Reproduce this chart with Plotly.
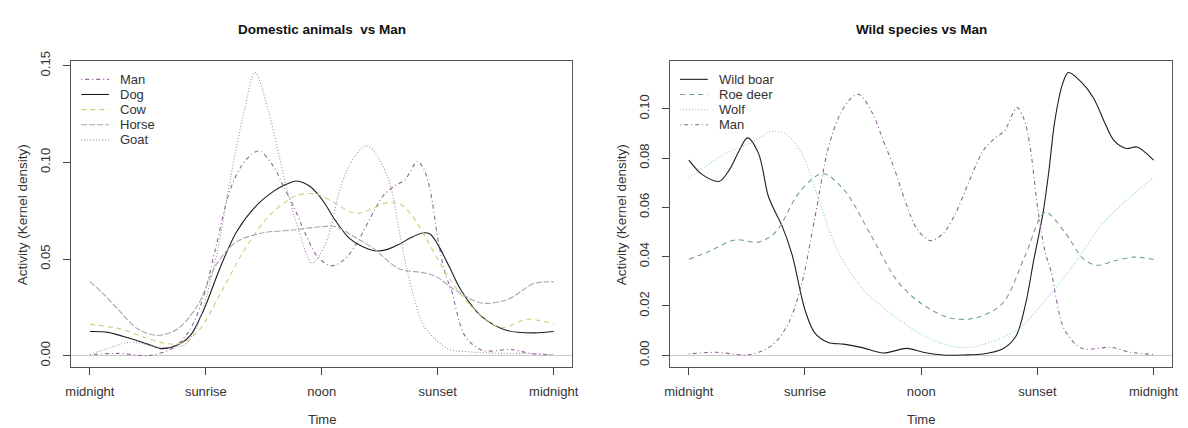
import plotly.graph_objects as go

# ---------------- data (hours of the day 0..24; kernel density) ----------------
TICK_HOURS = [0, 6, 12, 18, 24]
TICK_LABELS = ["midnight", "sunrise", "noon", "sunset", "midnight"]

LEFT_TITLE = "Domestic animals  vs Man"
RIGHT_TITLE = "Wild species vs Man"

LEFT_Y_TICKS = [0.0, 0.05, 0.10, 0.15]
RIGHT_Y_TICKS = [0.0, 0.02, 0.04, 0.06, 0.08, 0.10]

man_h = [0, 1.4, 3.1, 4.3, 5.15, 5.83, 6.5, 7.2, 7.8, 8.4, 8.8, 9.5, 10.0, 10.6, 11.2, 11.8,
         12.5, 13.2, 13.8, 14.5, 15.2, 15.8, 16.3, 16.95, 17.3, 17.6, 18.05, 18.4, 18.7,
         19.4, 20.3, 21.8, 22.8, 24]
man_v = [0.0005, 0.0012, 0.0002, 0.004, 0.013, 0.029, 0.0554, 0.0840, 0.0975, 0.1045, 0.1058,
         0.098, 0.088, 0.076, 0.062, 0.051, 0.0465, 0.050, 0.058, 0.071, 0.083, 0.088, 0.091,
         0.1005, 0.096, 0.086, 0.058, 0.042, 0.0342, 0.0104, 0.0028, 0.0032, 0.0012, 0.0003]

dog_h = [0, 0.94, 2.14, 3.0, 3.68, 4.5, 5.2, 5.9, 6.75, 7.6, 8.63, 9.5, 10.0, 10.7, 11.4,
         12.05, 12.7, 13.4, 14.1, 14.8, 15.4, 16.0, 16.6, 17.2, 17.6, 18.0, 18.6, 19.2, 20.25,
         21.6, 23, 24]
dog_v = [0.0125, 0.0121, 0.0088, 0.006, 0.0037, 0.0054, 0.0105, 0.0239, 0.0458, 0.0643, 0.0778,
         0.085, 0.0879, 0.0904, 0.0875, 0.0803, 0.070, 0.061, 0.0565, 0.0542, 0.055, 0.0576,
         0.061, 0.0635, 0.063, 0.0576, 0.046, 0.034, 0.0205, 0.013, 0.0118, 0.0125]

cow_h = [0, 1.6, 2.8, 4.0, 4.9, 5.7, 6.75, 7.95, 9.3, 10.7, 11.7, 12.5, 13.75, 14.6, 15.5,
         16.15, 16.7, 17.2, 18.55, 19.9, 21.3, 22.65, 24]
cow_v = [0.0163, 0.0138, 0.0096, 0.0062, 0.007, 0.0138, 0.032, 0.054, 0.0727, 0.0828, 0.0837,
         0.080, 0.0736, 0.076, 0.0795, 0.0778, 0.072, 0.0643, 0.0407, 0.0239, 0.0146, 0.0189,
         0.0163]

horse_h = [0, 0.7, 1.45, 2.48, 3.5, 4.53, 5.55, 6.56, 7.6, 9.0, 10.5, 12.05, 12.7, 13.76,
           14.6, 16.0, 17.2, 17.9, 18.9, 20.25, 21.6, 23, 24]
horse_v = [0.0383, 0.032, 0.024, 0.0138, 0.0105, 0.0138, 0.0256, 0.0475, 0.059, 0.0636, 0.065,
           0.0668, 0.0668, 0.061, 0.056, 0.045, 0.0430, 0.041, 0.034, 0.0273, 0.029, 0.0374,
           0.0382]

goat_h = [0, 1.0, 2.1, 3.5, 4.3, 4.9, 5.55, 6.07, 6.6, 7.26, 7.95, 8.55, 9.2, 9.8, 10.2,
          10.8, 11.5, 12.2, 12.9, 13.25, 13.7, 14.27, 14.7, 15.0, 15.5, 16.0, 16.4, 16.8,
          17.3, 18.5, 19.7, 21.4, 22.5, 24]
goat_v = [0.0007, 0.004, 0.007, 0.0045, 0.0045, 0.0055, 0.0155, 0.032, 0.054, 0.091, 0.125,
          0.1465, 0.128, 0.103, 0.086, 0.065, 0.048, 0.058, 0.0845, 0.0946, 0.103, 0.1086,
          0.106, 0.101, 0.090, 0.065, 0.045, 0.029, 0.015, 0.0037, 0.002, 0.0012, 0.0012,
          0.0007]

boar_h = [0, 0.7, 1.58, 2.1, 2.6, 3.03, 3.6, 4.1, 4.47, 4.8, 5.33, 6.0, 6.5, 7.2, 8.0, 8.9,
          10.05, 11.25, 12.1, 13.1, 14.2, 15.2, 16.2, 16.9, 17.4, 17.8, 18.3, 18.6, 18.9,
          19.3, 19.6, 20.25, 20.9, 21.5, 21.95, 22.6, 23.15, 24]
boar_v = [0.0792, 0.0733, 0.0706, 0.0753, 0.083, 0.0882, 0.0819, 0.0647, 0.058, 0.0528, 0.0409,
          0.0184, 0.0091, 0.0052, 0.0045, 0.0032, 0.0009, 0.0028, 0.0012, 0.0001, 0.0001,
          0.0005, 0.0025, 0.0078, 0.021, 0.038, 0.058, 0.075, 0.095, 0.110, 0.1147, 0.111,
          0.1044, 0.094, 0.0872, 0.0839, 0.0845, 0.0792]

roe_h = [0, 1.06, 2.4, 3.6, 4.5, 5.7, 6.9, 8.0, 9.4, 10.75, 12.0, 13.5, 14.8, 16.2, 17.4,
         18.4, 19.4, 20.4, 21.1, 21.95, 23, 24]
roe_v = [0.0389, 0.0422, 0.0468, 0.0459, 0.0501, 0.066, 0.0737, 0.0673, 0.0488, 0.0303, 0.021,
         0.0151, 0.0151, 0.021, 0.041, 0.058, 0.0501, 0.0389, 0.0365, 0.0382, 0.0398, 0.0389]

wolf_h = [0, 1.9, 3.3, 4.3, 5.0, 5.83, 6.7, 7.7, 9.05, 10.4, 12.0, 13.5, 14.5, 16.0, 17.2,
          18.55, 19.9, 21.3, 22.3, 23.2, 24]
wolf_v = [0.0719, 0.0819, 0.0865, 0.0909, 0.0898, 0.0819, 0.0634, 0.0422, 0.0263, 0.0171,
          0.0085, 0.0038, 0.0032, 0.0065, 0.0118, 0.0237, 0.0369, 0.0528, 0.0607, 0.067,
          0.0719]

# ---------------- styles ----------------
C_MAN = "#94609a"
C_DOG = "#1e1e1e"
C_COW = "#c9d27a"
C_HORSE = "#aca4ac"
C_GOAT = "#a887ae"
C_BOAR = "#1e1e1e"
C_ROE = "#729fa2"
C_WOLF = "#8fcccc"

D_DOTDASH = "1px,3px,4px,3px"
D_DASH = "5px,4px"
D_DOT = "1px,2px"
D_LONG = "6px,2px"

left_series = [
    ("Man", man_h, man_v, C_MAN, D_DOTDASH),
    ("Dog", dog_h, dog_v, C_DOG, "solid"),
    ("Cow", cow_h, cow_v, C_COW, D_DASH),
    ("Horse", horse_h, horse_v, C_HORSE, D_LONG),
    ("Goat", goat_h, goat_v, C_GOAT, D_DOT),
]
right_series = [
    ("Wild boar", boar_h, boar_v, C_BOAR, "solid"),
    ("Roe deer", roe_h, roe_v, C_ROE, D_DASH),
    ("Wolf", wolf_h, wolf_v, C_WOLF, D_DOT),
    ("Man", man_h, man_v, C_MAN, D_DOTDASH),
]

W, H = 1188, 428
FONT = "Liberation Sans, Arial, sans-serif"
TXT = "#333333"

# plot boxes in pixels
L_BOX = (66, 572)
R_BOX = (671, 1178)
TOP, BOTTOM = 52.7, 366

fig = go.Figure()

for name, hx, vy, col, dash in left_series:
    fig.add_trace(go.Scatter(x=hx, y=vy, mode="lines", name=name,
                             line=dict(color=col, width=1.1, dash=dash, shape="spline", smoothing=0.9),
                             xaxis="x", yaxis="y", showlegend=False))
for name, hx, vy, col, dash in right_series:
    fig.add_trace(go.Scatter(x=hx, y=vy, mode="lines", name=name,
                             line=dict(color=col, width=1.1, dash=dash, shape="spline", smoothing=0.9),
                             xaxis="x2", yaxis="y2", showlegend=False))

def px2x(p):
    return p / W

def py2y(p):
    return (H - p) / H

common_x = dict(range=[-0.96, 24.96], tickmode="array", tickvals=TICK_HOURS, ticktext=TICK_LABELS,
                ticks="outside", ticklen=7, tickcolor="#444", showline=True, mirror=True,
                linecolor="#555", linewidth=1, showgrid=False, zeroline=False,
                tickfont=dict(family=FONT, size=13, color=TXT), ticklabelstandoff=5)
common_y = dict(ticks="outside", ticklen=7, tickcolor="#444", showline=True, mirror=True,
                linecolor="#555", linewidth=1, showgrid=False, zeroline=True,
                zerolinecolor="#c8c8c8", zerolinewidth=1, tickangle=-90,
                tickfont=dict(family=FONT, size=13, color=TXT), tickmode="array")

fig.update_layout(
    width=W, height=H, margin=dict(l=0, r=0, t=0, b=0),
    paper_bgcolor="white", plot_bgcolor="white", showlegend=False,
    xaxis=dict(domain=[px2x(L_BOX[0]), px2x(L_BOX[1])], anchor="y", **common_x),
    xaxis2=dict(domain=[px2x(R_BOX[0]), px2x(R_BOX[1])], anchor="y2", **common_x),
    yaxis=dict(domain=[py2y(BOTTOM), py2y(TOP)], anchor="x", range=[-0.00606, 0.1522],
               tickvals=LEFT_Y_TICKS, ticktext=[f"{v:.2f}" for v in LEFT_Y_TICKS],
               ticklabelstandoff=8, **common_y),
    yaxis2=dict(domain=[py2y(BOTTOM), py2y(TOP)], anchor="x2", range=[-0.00496, 0.1192],
                tickvals=RIGHT_Y_TICKS, ticktext=[f"{v:.2f}" for v in RIGHT_Y_TICKS],
                ticklabelstandoff=8, **common_y),
)

annotations = []
shapes = []
for box, title in ((L_BOX, LEFT_TITLE), (R_BOX, RIGHT_TITLE)):
    cx = (box[0] + box[1]) / 2
    annotations.append(dict(text=f"<b>{title}</b>", x=px2x(cx), y=py2y(20), xref="paper", yref="paper",
                            showarrow=False, xanchor="center", yanchor="middle",
                            font=dict(family=FONT, size=13.5, color="#111")))
    annotations.append(dict(text="Time", x=px2x(cx), y=py2y(419), xref="paper", yref="paper",
                            showarrow=False, xanchor="center", yanchor="middle",
                            font=dict(family=FONT, size=13, color=TXT)))
    annotations.append(dict(text="Activity (Kernel density)", x=px2x(box[0] - 49), y=py2y((TOP + BOTTOM) / 2),
                            xref="paper", yref="paper", showarrow=False, textangle=-90,
                            xanchor="center", yanchor="middle",
                            font=dict(family=FONT, size=13.5, color=TXT)))

# legends (top-left, no box)
for box, series in ((L_BOX, left_series), (R_BOX, right_series)):
    for i, (name, _, _, col, dash) in enumerate(series):
        yy = 71 + i * 15.5
        shapes.append(dict(type="line", xref="paper", yref="paper",
                           x0=px2x(box[0] + 10), x1=px2x(box[0] + 38), y0=py2y(yy), y1=py2y(yy),
                           line=dict(color=col, width=1.1, dash=dash)))
        annotations.append(dict(text=name, x=px2x(box[0] + 47), y=py2y(yy), xref="paper", yref="paper",
                                showarrow=False, xanchor="left", yanchor="middle",
                                font=dict(family=FONT, size=13, color=TXT)))

fig.update_layout(annotations=annotations, shapes=shapes)
fig.write_html("out.html")
